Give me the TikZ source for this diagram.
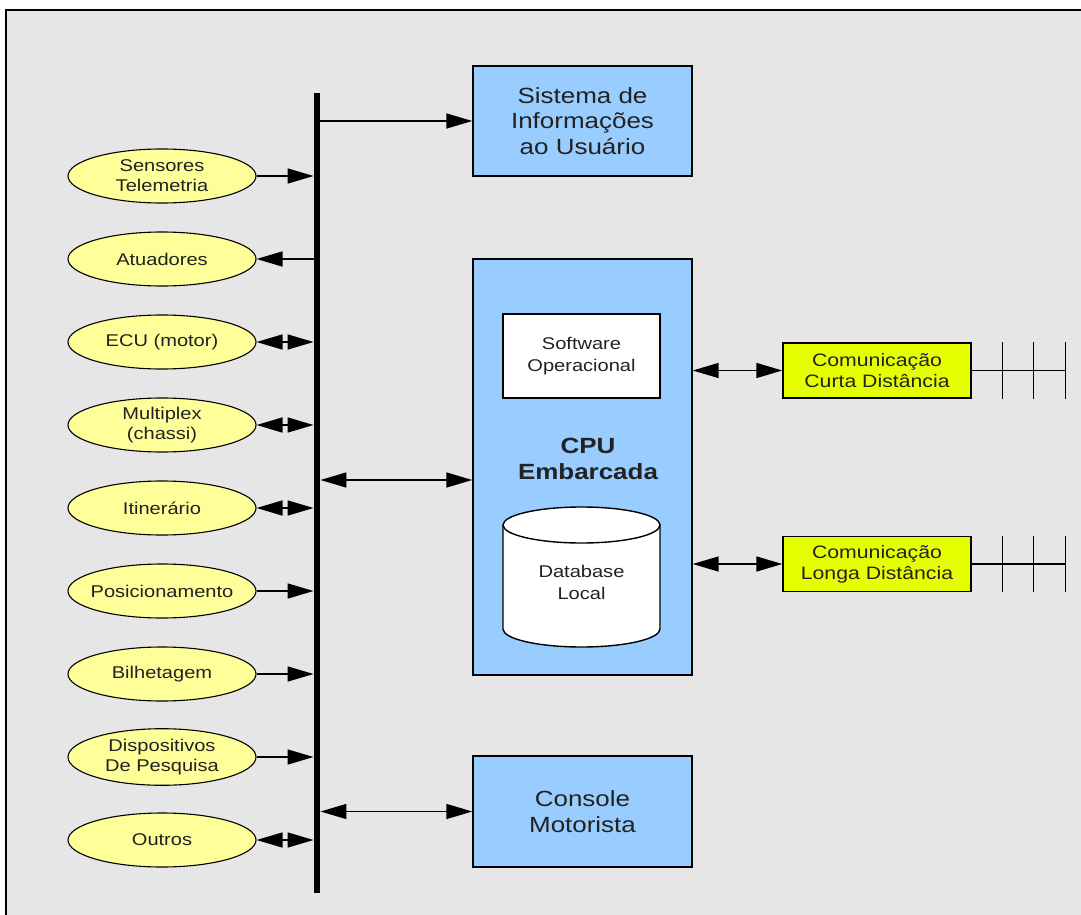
\documentclass[tikz,border=0pt]{standalone}
\usepackage{fontspec}
\setmainfont{Liberation Sans}[FakeStretch=1.18]
\usetikzlibrary{arrows.meta,shapes.geometric,calc}
\definecolor{bggray}{HTML}{E6E6E6}
\definecolor{boxblue}{HTML}{99CCFF}
\definecolor{ellyellow}{HTML}{FFFF99}
\definecolor{commgreen}{HTML}{E6FF00}
\definecolor{txt}{HTML}{222222}
\begin{document}
\begin{tikzpicture}[x=1pt,y=-1pt,
  >={Triangle[length=26pt,width=15pt]},
  conn/.style={line width=1.5pt},
  ell/.style={ellipse,draw,line width=1.1pt,fill=ellyellow,minimum width=188pt,minimum height=54pt,inner sep=0pt,align=center,text=txt,font=\fontsize{17}{20}\selectfont},
  bigbox/.style={rectangle,draw,line width=1.4pt,fill=boxblue,minimum width=219pt,inner sep=0pt,align=center,text=txt,font=\fontsize{22}{25.5}\selectfont},
  innerbox/.style={rectangle,draw,line width=1.4pt,fill=white,minimum width=157pt,minimum height=84pt,inner sep=0pt,align=center,text=txt,font=\fontsize{17}{22}\selectfont},
  commbox/.style={rectangle,draw,line width=1.4pt,fill=commgreen,minimum width=188pt,minimum height=55pt,inner sep=0pt,align=center,text=txt,font=\fontsize{18}{21}\selectfont},
  antenna/.style={line width=1.5pt}
]
\useasboundingbox (0,0) rectangle (1081,915);
\fill[white] (0,0) rectangle (1081,915);
\fill[bggray] (6,10) rectangle (1081,915);
\draw[line width=1.8pt] (6,915) -- (6,10) -- (1081,10);

% bus
\node[fill=black,minimum width=6.5pt,minimum height=800pt,inner sep=0pt] (bus) at (317,493) {};

% ellipses
\node[ell] (e1) at (162,176) {Sensores\\Telemetria};
\node[ell] (e2) at (162,259) {Atuadores};
\node[ell] (e3) at (162,342) {ECU (motor)};
\node[ell] (e4) at (162,425) {Multiplex\\(chassi)};
\node[ell] (e5) at (162,508) {Itinerário};
\node[ell] (e6) at (162,591) {\makebox[0pt]{Posicionamento}};
\node[ell] (e7) at (162,674) {Bilhetagem};
\node[ell] (e8) at (162,757) {\makebox[0pt]{\begin{tabular}{@{}c@{}}Dispositivos\\De Pesquisa\end{tabular}}};
\node[ell] (e9) at (162,840) {Outros};

\draw[conn,->] (e1.east) -- (e1.east -| bus.west);
\draw[conn,<-] (e2.east) -- (e2.east -| bus.west);
\draw[conn,<->] (e3.east) -- (e3.east -| bus.west);
\draw[conn,<->] (e4.east) -- (e4.east -| bus.west);
\draw[conn,<->] (e5.east) -- (e5.east -| bus.west);
\draw[conn,->] (e6.east) -- (e6.east -| bus.west);
\draw[conn,->] (e7.east) -- (e7.east -| bus.west);
\draw[conn,->] (e8.east) -- (e8.east -| bus.west);
\draw[conn,<->] (e9.east) -- (e9.east -| bus.west);

% right side boxes
\node[bigbox,minimum height=110pt] (sis) at (582.5,121) {Sistema de\\Informações\\ao Usuário};
\node[bigbox,minimum height=416pt] (cpu) at (582.5,467) {};
\node[innerbox] (soft) at (581.5,356) {Software\\Operacional};
\node[text=txt,font=\bfseries\fontsize{22}{26}\selectfont,align=center,inner sep=0pt] (cpulbl) at (588,459) {CPU\\Embarcada};

% database cylinder
\fill[white] (503,525) -- (503,629) arc[start angle=180,end angle=360,x radius=78.5pt,y radius=18pt] -- (660,525) arc[start angle=0,end angle=180,x radius=78.5pt,y radius=18pt] -- cycle;
\draw[line width=1.4pt] (503,525) -- (503,629) arc[start angle=180,end angle=360,x radius=78.5pt,y radius=18pt] -- (660,525);
\draw[line width=1.4pt] (581.5,525) ellipse[x radius=78.5pt,y radius=18pt];
\node[text=txt,font=\fontsize{17}{22}\selectfont,align=center,inner sep=0pt] (db) at (581.5,582) {Database\\Local};

\node[bigbox,minimum height=111pt] (con) at (582.5,811.5) {Console\\Motorista};

\node[commbox] (cc) at (877,370.5) {Comunicação\\Curta Distância};
\node[commbox] (cl) at (877,564) {Comunicação\\Longa Distância};

% connectors from bus
\coordinate (cpuin) at ([yshift=-13pt]cpu.west);
\draw[conn,->] (bus.east |- sis.west) -- (sis.west);
\draw[conn,<->] (bus.east |- cpuin) -- (cpuin);
\draw[conn,<->] (bus.east |- con.west) -- (con.west);
\draw[conn,<->] (cpu.east |- cc.west) -- (cc.west);
\draw[conn,<->] (cpu.east |- cl.west) -- (cl.west);

% antennas
\foreach \b in {cc,cl}{
  \draw[antenna] (\b.east) -- ($(\b.east)+(94,0)$);
  \foreach \dx in {31,62,94}{
    \draw[antenna] ($(\b.north east)+(\dx,0)$) -- ($(\b.south east)+(\dx,0)$);
  }
}
\end{tikzpicture}
\end{document}
